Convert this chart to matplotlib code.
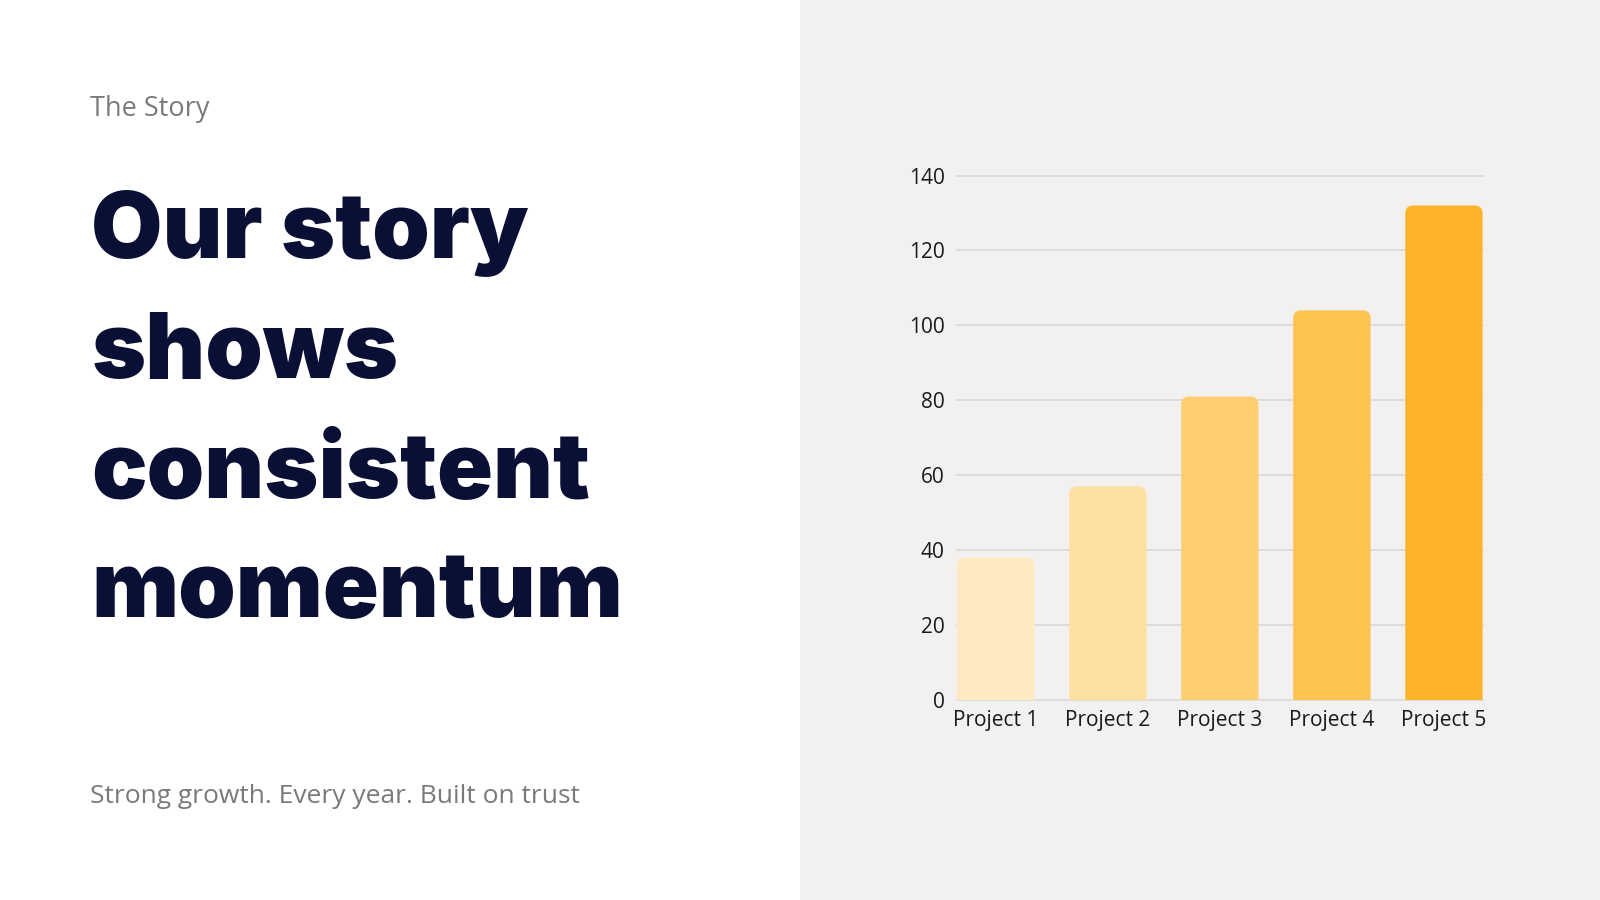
import matplotlib.pyplot as plt
from matplotlib.patches import FancyBboxPatch, Rectangle

# chart data
PROJECTS = ["Project 1", "Project 2", "Project 3", "Project 4", "Project 5"]
VALUES = [38, 57, 81, 104, 132]
COLORS = ["#fee9c0", "#fee0a2", "#fecf70", "#fdc250", "#fdb42b"]
Y_TICKS = [0, 20, 40, 60, 80, 100, 120, 140]

HEADLINE = ["Our story", "shows", "consistent", "momentum"]
KICKER = "The Story"
SUBTITLE = "Strong growth. Every year. Built on trust"

NAVY = "#0a0f35"
GREY_TEXT = "#7a7a7a"
PANEL = "#f2f1ef"


def rounded_bars(ax, bars, colors, radius=0.07, aspect=30, sink=6):
    """swap the plain bars for ones with rounded top corners.
    the box is pushed below y=0 so the axes clip hides the bottom rounding"""
    for bar, c in zip(bars, colors):
        x, w, h = bar.get_x(), bar.get_width(), bar.get_height()
        bar.remove()
        ax.add_patch(FancyBboxPatch((x, -sink), w, h + sink,
                                    boxstyle=f"round,pad=0,rounding_size={radius}",
                                    mutation_aspect=aspect, fc=c, ec="none",
                                    zorder=3))


def main():
    fig = plt.figure(figsize=(16, 9), dpi=100)
    fig.patch.set_facecolor("white")
    fig.add_artist(Rectangle((0.5, 0), 0.5, 1, transform=fig.transFigure,
                             fc=PANEL, ec="none", zorder=0))

    # left side text
    fig.text(0.0561, 0.879, KICKER, fontsize=19.5, color=GREY_TEXT,
             family="Open Sans", va="center")
    baselines = [0.7132, 0.5805, 0.4467, 0.314]
    for line, y in zip(HEADLINE, baselines):
        fig.text(0.057, y, line, fontsize=66.5, color=NAVY, family="Inter",
                 weight="black", va="baseline")
    fig.text(0.0561, 0.115, SUBTITLE, fontsize=19, color=GREY_TEXT,
             family="Open Sans", va="center")

    # bar chart
    ax = fig.add_axes([0.5982, 0.2222, 0.3284, 0.5828])
    ax.set_facecolor("none")
    xs = range(len(PROJECTS))
    bars = ax.bar(xs, VALUES, width=0.69, color=COLORS, zorder=3)
    rounded_bars(ax, bars, COLORS)

    ax.set_xlim(-0.345, len(PROJECTS) - 1 + 0.345)
    ax.set_ylim(0, 140)
    ax.set_yticks(Y_TICKS)
    ax.set_xticks(list(xs))
    ax.set_xticklabels(PROJECTS)
    for y in Y_TICKS:
        ax.axhline(y, color="#d6d6d6", lw=1.1, zorder=1, clip_on=False)
    for s in ax.spines.values():
        s.set_visible(False)
    ax.tick_params(length=0, labelsize=15, labelcolor="#1a1a1a")
    ax.tick_params(axis="y", pad=9)
    ax.tick_params(axis="x", pad=7)
    for lab in ax.get_xticklabels() + ax.get_yticklabels():
        lab.set_family("Open Sans")

    fig.savefig("out.png", dpi=100, facecolor=fig.get_facecolor())


if __name__ == "__main__":
    main()
